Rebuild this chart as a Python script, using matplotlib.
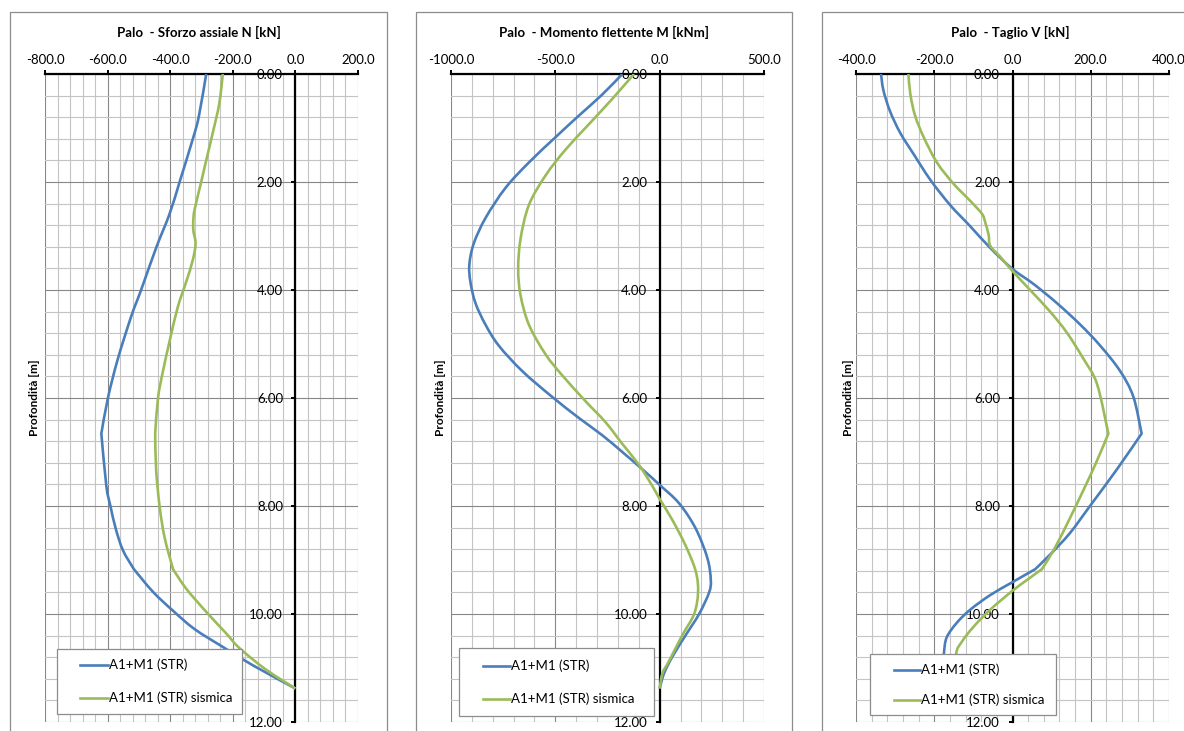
import numpy as np
import matplotlib
matplotlib.use("Agg")
import matplotlib.pyplot as plt
from matplotlib.patches import Rectangle, PathPatch
from matplotlib.lines import Line2D
from matplotlib.path import Path
from matplotlib.ticker import MultipleLocator, FormatStrFormatter

plt.rcParams['font.family'] = ['Lato', 'DejaVu Sans']

# --- dati (profondità [m], valori) ---
# Sforzo assiale N [kN]
n_str_z = [0, 0.77, 1.17, 2.0, 2.59, 3.22, 4.0, 4.48, 5.27, 6.0, 6.66, 7.63, 8.0, 8.42, 8.82,
           9.17, 9.59, 9.94, 10.28, 10.62, 10.95, 11.38]
n_str_v = [-285, -308, -326, -370, -402, -445, -493, -524, -567, -599, -620, -604, -591, -574, -551,
           -516, -455, -391, -322, -229, -136, 0]
n_sis_z = [0, 0.54, 1.09, 1.6, 2.0, 2.51, 2.7, 2.9, 3.14, 3.45, 3.85, 4.32, 4.95, 5.5, 6.0, 6.66,
           7.32, 8.0, 8.58, 9.17, 9.53, 9.96, 10.36, 10.63, 11.03, 11.38]
n_sis_v = [-232, -243, -264, -285, -301, -322, -326, -326, -319, -328, -349, -376, -402, -423, -439, -448,
           -445, -434, -418, -391, -349, -285, -221, -179, -94, 0]

# Momento flettente M [kNm]
m_str_z = [0, 0.38, 0.77, 1.17, 1.64, 2.11, 2.67, 3.14, 3.53, 3.85, 4.24, 4.64, 5.03, 5.5, 5.98,
           6.37, 6.69, 7.0, 7.32, 7.61, 7.95, 8.42, 8.97, 9.37, 9.6, 10.0, 10.39, 10.79, 11.1, 11.38]
m_str_v = [-179, -275, -387, -499, -627, -739, -835, -891, -912, -907, -883, -835, -771, -659, -515,
           -387, -275, -179, -83, 0, 93, 173, 229, 245, 237, 189, 125, 61, 21, 0]
m_sis_z = [0, 0.46, 0.93, 1.4, 1.88, 2.43, 3.06, 3.61, 4.09, 4.64, 5.19, 5.58, 6.06, 6.45, 6.85,
           7.24, 7.63, 7.87, 8.26, 8.74, 9.21, 9.6, 10.0, 10.39, 10.87, 11.1, 11.38]
m_sis_v = [-123, -227, -339, -451, -547, -627, -667, -678, -667, -627, -547, -467, -355, -259, -179,
           -99, -35, 0, 61, 125, 173, 184, 165, 109, 45, 13, 0]

# Taglio V [kN]
v_str_z = [0, 0.3, 0.69, 1.09, 1.48, 1.96, 2.43, 2.82, 3.22, 3.61, 3.89, 4.24, 4.64, 5.03, 5.5,
           5.98, 6.66, 7.32, 8.0, 8.5, 8.9, 9.17, 9.41, 9.65, 9.92, 10.16, 10.43, 10.71, 10.95, 11.38]
v_str_v = [-336, -330, -313, -287, -253, -210, -159, -108, -57, 0, 54, 113, 173, 224, 275,
           309, 330, 267, 198, 147, 96, 58, 0, -57, -108, -142, -168, -175, -176, -172]
v_sis_z = [0, 0.38, 0.77, 1.17, 1.64, 2.03, 2.35, 2.59, 2.74, 2.98, 3.18, 3.38, 3.65, 4.0, 4.4,
           4.79, 5.27, 5.74, 6.66, 7.16, 7.71, 8.34, 8.82, 9.17, 9.37, 9.57, 9.92, 10.24, 10.51, 10.75, 11.38]
v_sis_v = [-266, -261, -249, -227, -193, -151, -108, -78, -70, -61, -57, -32, 0, 45, 96,
           139, 181, 216, 245, 216, 181, 139, 105, 75, 37, 0, -57, -100, -129, -144, -140]

# profondità dove le curve hanno uno spigolo (cambio di strato)
spigoli = [6.66, 9.17]

titoli = ['Palo  - Sforzo assiale N [kN]', 'Palo  - Momento flettente M [kNm]', 'Palo  - Taglio V [kN]']
etichette = ['A1+M1 (STR)', 'A1+M1 (STR) sismica']
blu = '#4A7EBB'
verde = '#9BBB59'

W, H = 1184, 731
fig = plt.figure(figsize=(W / 100, H / 100), dpi=100)

def fx(x):
    return x / W

def fy(y):
    return 1 - y / H

def linea_smussata(v, z, corner):
    # linea "smussata" come in Excel: Bezier tipo Catmull-Rom tra i punti letti
    pts = np.column_stack([v, z]).astype(float)
    n = len(pts)
    verts = [pts[0]]
    codes = [Path.MOVETO]
    for i in range(n - 1):
        p1, p2 = pts[i], pts[i + 1]
        p0 = pts[i - 1] if i > 0 and z[i] not in corner else p1
        p3 = pts[i + 2] if i + 2 < n and z[i + 1] not in corner else p2
        verts += [p1 + (p2 - p0) / 6, p2 - (p3 - p1) / 6, p2]
        codes += [Path.CURVE4] * 3
    return Path(verts, codes)

# posizione dei pannelli in pixel: area grafico, area tracciato, legenda
pannelli = [
    dict(box=(10, 387), plot=(45, 358), xlim=(-800, 200), major=200, minor=40,
         leg=(57, 649, 242, 714), hx=(80, 108), rows=(665, 698), ylab=35, corner=spigoli,
         data=[(n_str_z, n_str_v), (n_sis_z, n_sis_v)]),
    dict(box=(416, 792), plot=(451, 764), xlim=(-1000, 500), major=500, minor=100,
         leg=(459, 648, 654, 716), hx=(483, 510), rows=(666, 699), ylab=440, corner=[],
         data=[(m_str_z, m_str_v), (m_sis_z, m_sis_v)]),
    dict(box=(822, 1198), plot=(856, 1169), xlim=(-400, 400), major=200, minor=40,
         leg=(870, 654, 1056, 715), hx=(894, 920), rows=(670, 700), ylab=848, corner=spigoli,
         data=[(v_str_z, v_str_v), (v_sis_z, v_sis_v)]),
]

top, bottom = 74, 722

for p, titolo in zip(pannelli, titoli):
    # bordo dell'area grafico
    b0, b1 = p['box']
    fig.add_artist(Rectangle((fx(b0), fy(760)), fx(b1 - b0), (760 - 12) / H,
                             transform=fig.transFigure, fill=False, edgecolor='#8c8c8c', lw=0.9))
    fig.text(fx((b0 + b1) / 2), fy(32), titolo, ha='center', va='center',
             fontsize=9.5, fontweight='bold')

    x0, x1 = p['plot']
    ax = fig.add_axes([fx(x0), fy(bottom), fx(x1 - x0), (bottom - top) / H])
    ax.set_xlim(*p['xlim'])
    ax.set_ylim(12, 0)

    ax.xaxis.set_major_locator(MultipleLocator(p['major']))
    ax.xaxis.set_minor_locator(MultipleLocator(p['minor']))
    ax.yaxis.set_major_locator(MultipleLocator(2))
    ax.yaxis.set_minor_locator(MultipleLocator(0.4))
    ax.xaxis.set_major_formatter(FormatStrFormatter('%.1f'))
    ax.yaxis.set_major_formatter(FormatStrFormatter('%.2f'))

    ax.grid(which='major', color='#878787', lw=0.8)
    ax.grid(which='minor', color='#c4c4c4', lw=0.8)
    ax.set_axisbelow(True)

    ax.xaxis.tick_top()
    ax.spines['left'].set_position(('data', 0))
    ax.spines['bottom'].set_visible(False)
    ax.spines['right'].set_visible(False)
    ax.spines['top'].set_linewidth(1.6)
    ax.spines['left'].set_linewidth(1.6)
    ax.spines['left'].set_zorder(1.5)
    ax.tick_params(which='minor', length=0)
    ax.tick_params(axis='x', which='major', length=3, width=1.4, pad=3, labelsize=9.5)
    ax.tick_params(axis='y', which='major', length=3, width=1.4, pad=6, labelsize=9.5)

    fig.text(fx(p['ylab']), fy(398), 'Profondità [m]', rotation=90,
             ha='center', va='center', fontsize=8.5, fontweight='bold')

    for (z, v), col in zip(p['data'], [blu, verde]):
        ax.add_patch(PathPatch(linea_smussata(v, z, p['corner']), fill=False, edgecolor=col,
                               lw=1.9, joinstyle='round', zorder=3))

    # legenda
    l0, lt, l1, lb = p['leg']
    ax.add_artist(Rectangle((fx(l0), fy(lb)), fx(l1 - l0), (lb - lt) / H, transform=fig.transFigure,
                            facecolor='white', edgecolor='#8c8c8c', lw=0.9, zorder=5, clip_on=False))
    h0, h1 = p['hx']
    for ry, col, lab in zip(p['rows'], [blu, verde], etichette):
        ax.add_artist(Line2D([fx(h0), fx(h1)], [fy(ry), fy(ry)], transform=fig.transFigure,
                             color=col, lw=1.9, zorder=6, clip_on=False))
        ax.text(fx(h1 + 1), fy(ry), lab, transform=fig.transFigure, ha='left', va='center',
                fontsize=9.5, zorder=7)

fig.savefig('out.png', dpi=100)
